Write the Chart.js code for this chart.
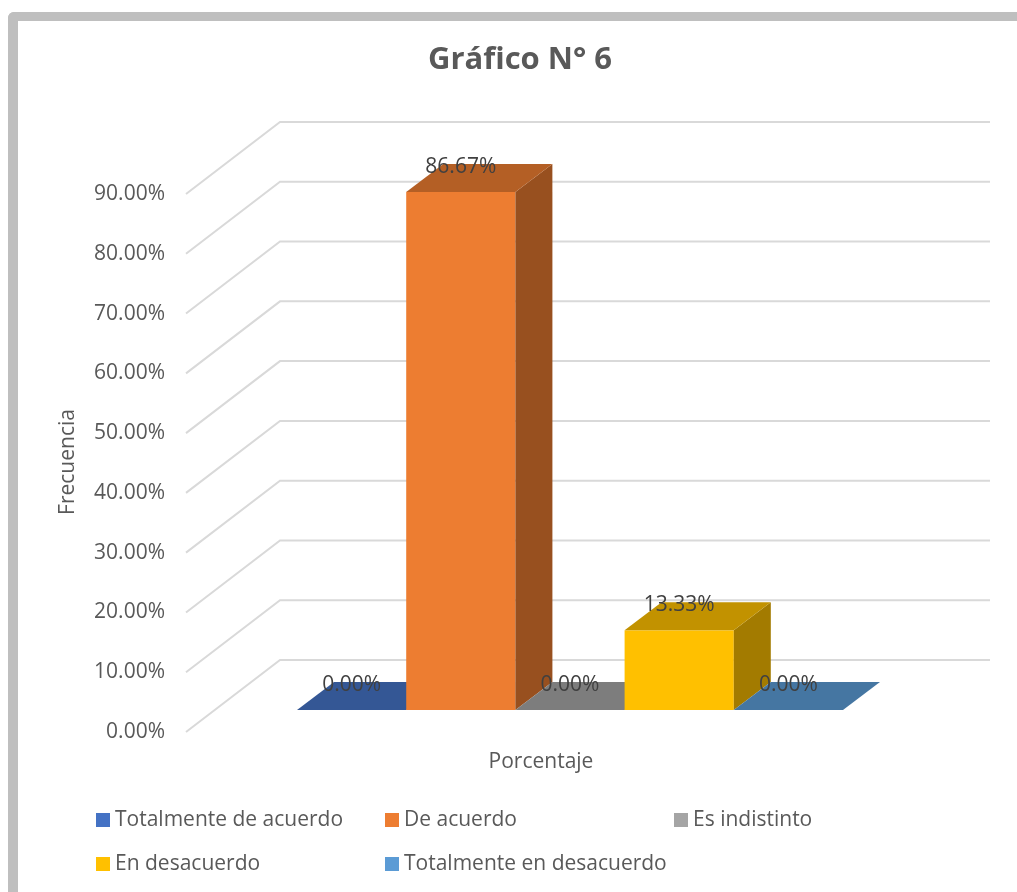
<!DOCTYPE html>
<html>
<head>
<meta charset="utf-8">
<script src="https://cdn.jsdelivr.net/npm/chart.js@4.4.1/dist/chart.umd.min.js"></script>
<style>
html,body{margin:0;padding:0;background:#fff;width:1017px;height:892px;overflow:hidden;}
#frame{position:absolute;left:8px;top:12px;width:1100px;height:1000px;border-left:10px solid #BFBFBF;border-top:9px solid #BFBFBF;border-top-left-radius:6px;box-sizing:border-box;background:#fff;}
#c{position:absolute;left:0;top:0;}
</style>
</head>
<body>
<div id="frame"></div>
<canvas id="c" width="1017" height="892"></canvas>
<script>
// ---- data ----
const categories = ['Porcentaje'];
const seriesNames = ['Totalmente de acuerdo', 'De acuerdo', 'Es indistinto', 'En desacuerdo', 'Totalmente en desacuerdo'];
const seriesValues = [0.00, 86.67, 0.00, 13.33, 0.00];
const seriesColors = ['#4472C4', '#ED7D31', '#A5A5A5', '#FFC000', '#5B9BD5'];
const yTickValues = [0, 10, 20, 30, 40, 50, 60, 70, 80, 90];
const chartTitle = 'Gráfico N° 6';
const yAxisTitle = 'Frecuencia';
const xAxisTitle = 'Porcentaje';

// ---- styling constants ----
const FONT = '"Open Sans", "DejaVu Sans", sans-serif';
const TEXT_COLOR = '#595959';
const LABEL_COLOR = '#404040';
const GRID_COLOR = '#D9D9D9';
const DEPTH = { dx: 37, dy: -28 };
const WALL = { frontX: 11, backX: 105, rightExt: 25, frontDy: 22, backDy: -50 };

function shade(hex, f) {
  const n = parseInt(hex.slice(1), 16);
  const r = Math.round(((n >> 16) & 255) * f);
  const g = Math.round(((n >> 8) & 255) * f);
  const b = Math.round((n & 255) * f);
  return `rgb(${r},${g},${b})`;
}

const bar3d = {
  id: 'bar3d',
  beforeDatasetsDraw(chart) {
    const { ctx, chartArea: ca } = chart;
    const y = chart.scales.y;
    ctx.save();
    // walls / gridlines
    ctx.strokeStyle = GRID_COLOR;
    ctx.lineWidth = 2;
    const fx = ca.left + WALL.frontX, bx = ca.left + WALL.backX, rx = ca.right + WALL.rightExt;
    y.ticks.forEach(t => {
      const py = y.getPixelForValue(t.value);
      ctx.beginPath();
      ctx.moveTo(fx, py + WALL.frontDy);
      ctx.lineTo(bx, py + WALL.backDy);
      ctx.lineTo(rx, py + WALL.backDy);
      ctx.stroke();
    });
    // bars
    chart.data.datasets.forEach((ds, i) => {
      const el = chart.getDatasetMeta(i).data[0];
      const l = el.x - el.width / 2, r = el.x + el.width / 2;
      const t = el.y, b = el.base;
      const col = ds.backgroundColor;
      if (b - t > 0.5) {
        ctx.fillStyle = col;
        ctx.fillRect(l, t, r - l, b - t);
        // side
        ctx.fillStyle = shade(col, 0.64);
        ctx.beginPath();
        ctx.moveTo(r, t);
        ctx.lineTo(r + DEPTH.dx, t + DEPTH.dy);
        ctx.lineTo(r + DEPTH.dx, b + DEPTH.dy);
        ctx.lineTo(r, b);
        ctx.closePath();
        ctx.fill();
      }
      // top
      ctx.fillStyle = shade(col, 0.76);
      ctx.beginPath();
      ctx.moveTo(l, t);
      ctx.lineTo(l + DEPTH.dx, t + DEPTH.dy);
      ctx.lineTo(r + DEPTH.dx, t + DEPTH.dy);
      ctx.lineTo(r, t);
      ctx.closePath();
      ctx.fill();
    });
    // data labels
    ctx.fillStyle = LABEL_COLOR;
    ctx.font = `21px ${FONT}`;
    ctx.textAlign = 'center';
    ctx.textBaseline = 'middle';
    chart.data.datasets.forEach((ds, i) => {
      const el = chart.getDatasetMeta(i).data[0];
      ctx.fillText(ds.data[0].toFixed(2) + '%', el.x, el.y - 25);
    });
    ctx.restore();
    return false;
  },
  afterDraw(chart) {
    const { ctx } = chart;
    ctx.save();
    // title
    ctx.fillStyle = TEXT_COLOR;
    ctx.font = `bold 31px ${FONT}`;
    ctx.textAlign = 'center';
    ctx.textBaseline = 'middle';
    ctx.fillText(chartTitle, 520, 60);
    // axis titles
    ctx.font = `21px ${FONT}`;
    ctx.fillText(xAxisTitle, 541, 762);
    ctx.save();
    ctx.translate(68, 462);
    ctx.rotate(-Math.PI / 2);
    ctx.fillText(yAxisTitle, 0, 0);
    ctx.restore();
    // legend
    const cols = [96, 385, 674], rows = [820, 864];
    ctx.textAlign = 'left';
    chart.data.datasets.forEach((ds, i) => {
      const x = cols[i % 3], yy = rows[Math.floor(i / 3)];
      ctx.fillStyle = ds.backgroundColor;
      ctx.fillRect(x, yy - 7, 14, 14);
      ctx.fillStyle = TEXT_COLOR;
      ctx.fillText(ds.label, x + 19, yy);
    });
    ctx.restore();
  }
};

const datasets = seriesNames.map((name, i) => ({
  label: name,
  data: [seriesValues[i]],
  backgroundColor: seriesColors[i],
  borderWidth: 0,
  categoryPercentage: 0.6911,
  barPercentage: 1.0
}));

new Chart(document.getElementById('c'), {
  type: 'bar',
  data: { labels: categories, datasets },
  options: {
    responsive: false,
    animation: false,
    layout: { padding: { left: 0, right: 52, top: 172, bottom: 182 } },
    plugins: { legend: { display: false }, title: { display: false }, tooltip: { enabled: false } },
    scales: {
      x: { display: false },
      y: {
        min: 0, max: 90,
        afterBuildTicks: s => { s.ticks = yTickValues.map(v => ({ value: v })); },
        afterFit: s => { s.width = 175; },
        grid: { display: false, drawTicks: false },
        border: { display: false },
        ticks: {
          labelOffset: 22,
          padding: 10,
          color: TEXT_COLOR,
          font: { family: FONT, size: 21 },
          callback: v => Number(v).toFixed(2) + '%'
        }
      }
    }
  },
  plugins: [bar3d]
});
</script>
</body>
</html>
